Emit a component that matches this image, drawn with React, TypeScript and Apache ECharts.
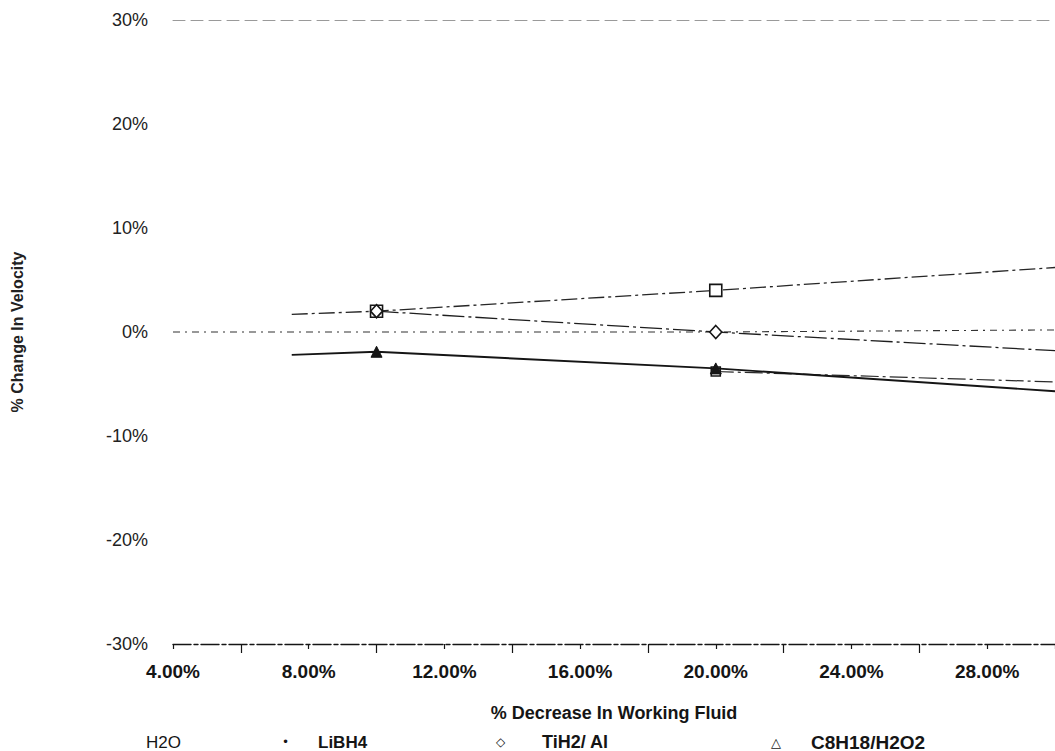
import { useEffect, useRef } from "react";
import * as echarts from "echarts";

// Percent decrease in working fluid (x) vs percent change in velocity (y)
const xH2O = [4, 10, 20, 30];
const yH2O = [0, 0, 0, 0.2];

const xLiBH4 = [7.5, 10, 20, 30];
const yLiBH4 = [1.7, 2.0, 4.0, 6.2];

const xTiH2Al = [10, 20, 30];
const yTiH2Al = [2.0, 0.0, -1.8];

const xC8H18 = [7.5, 10, 20, 30];
const yC8H18 = [-2.2, -1.9, -3.5, -5.7];

const xC8H18Trend = [20, 30];
const yC8H18Trend = [-3.8, -4.8];

// x positions that carry a plotted marker
const measuredX = [10, 20];

const xMin = 4;
const xMax = 30;
const xStep = 4;
const yMin = -30;
const yMax = 30;
const yStep = 10;

const legendItems = [
  { symbol: "", name: "H2O", weight: "normal" },
  { symbol: "•", name: "LiBH4", weight: "bold" },
  { symbol: "◇", name: "TiH2/ Al", weight: "bold" },
  { symbol: "△", name: "C8H18/H2O2", weight: "bold" },
];

const FONT = '"Liberation Sans", Arial, Helvetica, sans-serif';

function points(xs: number[], ys: number[], symbol: string) {
  return xs.map((x, i) => ({
    value: [x, ys[i]],
    symbol: measuredX.includes(x) ? symbol : "none",
  }));
}

export default function App() {
  const ref = useRef<HTMLDivElement>(null);

  useEffect(() => {
    if (!ref.current) return;
    const chart = echarts.init(ref.current, undefined, { renderer: "svg" });

    const ink = "#151515";
    const markerStyle = {
      color: "#ffffff",
      borderColor: ink,
      borderWidth: 1.6,
    };

    const legendX = [146, 282, 318, 501, 542, 777, 811];
    const legendGraphic: any[] = [
      { type: "text", x: legendX[0], y: 742, style: { text: legendItems[0].name, font: `normal 17px ${FONT}`, fill: ink, verticalAlign: "middle" } },
      { type: "text", x: legendX[1], y: 742, style: { text: legendItems[1].symbol, font: `normal 12px "DejaVu Sans"`, fill: ink, verticalAlign: "middle" } },
      { type: "text", x: legendX[2], y: 742, style: { text: legendItems[1].name, font: `bold 17px ${FONT}`, fill: ink, verticalAlign: "middle" } },
      { type: "text", x: legendX[3] - 5, y: 742, style: { text: legendItems[2].symbol, font: `normal 12px "DejaVu Sans"`, fill: ink, verticalAlign: "middle" } },
      { type: "text", x: legendX[4], y: 742, style: { text: legendItems[2].name, font: `bold 18px ${FONT}`, fill: ink, verticalAlign: "middle" } },
      { type: "text", x: legendX[5] - 6, y: 742, style: { text: legendItems[3].symbol, font: `normal 13px "DejaVu Sans"`, fill: ink, verticalAlign: "middle" } },
      { type: "text", x: legendX[6], y: 742, style: { text: legendItems[3].name, font: `bold 19px ${FONT}`, fill: ink, verticalAlign: "middle" } },
    ];

    chart.setOption({
      animation: false,
      backgroundColor: "#ffffff",
      textStyle: { fontFamily: FONT },
      grid: { left: 173, top: 20, width: 889, height: 624, containLabel: false },
      xAxis: [
        {
          type: "value",
          position: "bottom",
          min: xMin,
          max: xMax,
          interval: xStep,
          name: "% Decrease In Working Fluid",
          nameLocation: "middle",
          nameGap: 60,
          nameTextStyle: { fontFamily: FONT, fontWeight: "bold", fontSize: 18, color: ink },
          axisLine: { show: true, onZero: false, lineStyle: { color: ink, width: 1.4, type: [18, 3, 4, 3] } },
          axisTick: { show: true, length: 5, lineStyle: { color: ink, width: 1.2 } },
          minorTick: { show: true, splitNumber: 2, length: 9, lineStyle: { color: ink, width: 1.2 } },
          splitLine: { show: false },
          axisLabel: {
            margin: 18,
            showMaxLabel: false,
            fontFamily: FONT,
            fontWeight: "bold",
            fontSize: 19,
            color: ink,
            formatter: (v: number) => (v > xMax - 1 ? "" : v.toFixed(2) + "%"),
          },
        },
        {
          type: "value",
          position: "top",
          min: xMin,
          max: xMax,
          interval: xStep,
          axisLine: { show: true, onZero: false, lineStyle: { color: "#9a9a9a", width: 1, type: [12, 6] } },
          axisTick: { show: false },
          axisLabel: { show: false },
          splitLine: { show: false },
        },
      ],
      yAxis: {
        type: "value",
        min: yMin,
        max: yMax,
        interval: yStep,
        name: "% Change In Velocity",
        nameLocation: "middle",
        nameRotate: 90,
        nameGap: 148,
        nameTextStyle: { fontFamily: FONT, fontWeight: "bold", fontSize: 16, color: "#222" },
        axisLine: { show: false },
        axisTick: { show: false },
        splitLine: { show: false },
        axisLabel: {
          margin: 25,
          fontFamily: FONT,
          fontSize: 18,
          color: "#222",
          formatter: (v: number) => v + "%",
        },
      },
      series: [
        {
          name: "H2O",
          type: "line",
          data: points(xH2O, yH2O, "none"),
          showSymbol: true,
          lineStyle: { color: "#333", width: 1.1, type: [7, 5, 2, 5] },
          itemStyle: markerStyle,
          z: 2,
        },
        {
          name: "LiBH4",
          type: "line",
          data: points(xLiBH4, yLiBH4, "rect"),
          symbolSize: 12,
          lineStyle: { color: "#262626", width: 1.3, type: [16, 4, 3, 4] },
          itemStyle: markerStyle,
          z: 3,
        },
        {
          name: "TiH2/Al",
          type: "line",
          data: points(xTiH2Al, yTiH2Al, "diamond"),
          symbolSize: [12, 13],
          lineStyle: { color: "#1e1e1e", width: 1.3, type: [22, 4, 3, 4] },
          itemStyle: markerStyle,
          z: 4,
        },
        {
          name: "C8H18/H2O2 trend",
          type: "line",
          data: points(xC8H18Trend, yC8H18Trend, "rect"),
          symbolSize: 9,
          lineStyle: { color: "#2a2a2a", width: 1.2, type: [18, 4, 3, 4] },
          itemStyle: markerStyle,
          z: 3,
        },
        {
          name: "C8H18/H2O2",
          type: "line",
          data: points(xC8H18, yC8H18, "triangle"),
          symbolSize: 11,
          lineStyle: { color: ink, width: 1.9 },
          itemStyle: { color: ink, borderColor: ink, borderWidth: 1 },
          z: 5,
        },
      ],
      graphic: legendGraphic,
    });

    return () => chart.dispose();
  }, []);

  return (
    <div
      ref={ref}
      style={{ position: "absolute", left: 0, top: 0, width: 1055, height: 751, background: "#fff" }}
    />
  );
}
